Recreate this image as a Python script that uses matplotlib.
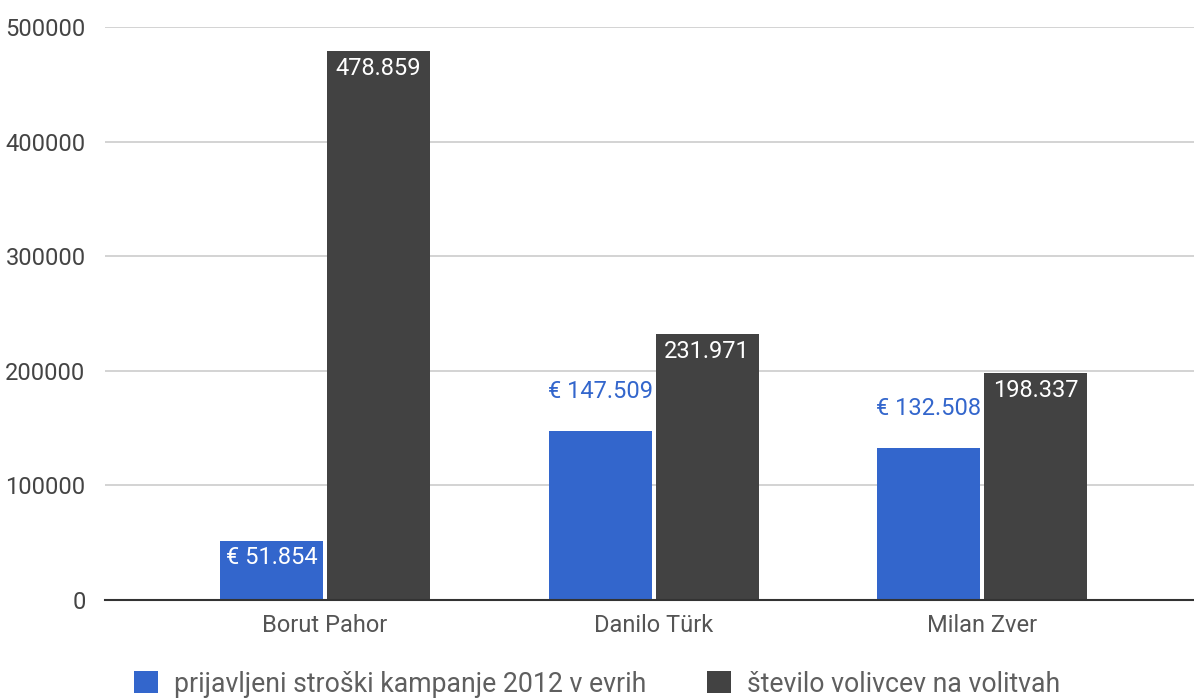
import matplotlib.pyplot as plt
from matplotlib.patches import Patch
import numpy as np

plt.rcParams['font.family'] = ['Roboto', 'DejaVu Sans']

# podatki
kandidati = ['Borut Pahor', 'Danilo Türk', 'Milan Zver']
stroski = [51854, 147509, 132508]
volivci = [478859, 231971, 198337]
stroski_labels = ['€ 51.854', '€ 147.509', '€ 132.508']
volivci_labels = ['478.859', '231.971', '198.337']
yticks = [0, 100000, 200000, 300000, 400000, 500000]

BLUE = '#3366cc'
DARK = '#424242'


def main():
    fig = plt.figure(figsize=(11.94, 7.0), dpi=100)
    ax = fig.add_axes([105 / 1194, 100 / 700, 1089 / 1194, 573 / 700])

    x = np.arange(len(kandidati))
    w = 0.3135
    off = 0.163

    b1 = ax.bar(x - off, stroski, w, color=BLUE, zorder=3)
    b2 = ax.bar(x + off, volivci, w, color=DARK, zorder=3)

    # oznake vrednosti
    for i, rect in enumerate(b1):
        cx = rect.get_x() + rect.get_width() / 2
        h = rect.get_height()
        if i == 0:
            ax.annotate(stroski_labels[i], (cx, h), xytext=(0, -12.5), textcoords='offset points',
                        ha='center', va='center', color='white', fontsize=17, zorder=4)
        else:
            ax.annotate(stroski_labels[i], (cx, h), xytext=(0, 28.5), textcoords='offset points',
                        ha='center', va='center', color=BLUE, fontsize=17, zorder=4)
    for i, rect in enumerate(b2):
        cx = rect.get_x() + rect.get_width() / 2
        h = rect.get_height()
        ax.annotate(volivci_labels[i], (cx, h), xytext=(0, -12.5), textcoords='offset points',
                    ha='center', va='center', color='white', fontsize=17, zorder=4)

    ax.set_xlim(-0.67, 2.645)
    ax.set_ylim(0, 500000)
    ax.set_yticks(yticks)
    ax.set_yticklabels([str(v) for v in yticks])
    ax.set_xticks(x)
    ax.set_xticklabels(kandidati)

    ax.grid(axis='y', color='#cccccc', linewidth=1.2, zorder=0)
    for s in ['top', 'right', 'left']:
        ax.spines[s].set_visible(False)
    ax.spines['bottom'].set_color('#333333')
    ax.spines['bottom'].set_linewidth(1.5)
    ax.spines['bottom'].set_zorder(5)

    ax.tick_params(axis='y', length=0, pad=14, labelsize=17, labelcolor='#444444')
    ax.tick_params(axis='x', length=0, pad=10, labelsize=17, labelcolor='#555555')

    handles = [Patch(facecolor=BLUE, label='prijavljeni stroški kampanje 2012 v evrih'),
               Patch(facecolor=DARK, label='število volivcev na volitvah')]
    leg = fig.legend(handles=handles, loc='center', bbox_to_anchor=(0.5, 16 / 700), ncol=2,
                     frameon=False, fontsize=19.2, handlelength=0.9, handleheight=0.9,
                     handletextpad=0.6, columnspacing=2.3, borderpad=0)
    for t in leg.get_texts():
        t.set_color('#5f5f5f')

    fig.savefig('out.png', dpi=100)


if __name__ == '__main__':
    main()
